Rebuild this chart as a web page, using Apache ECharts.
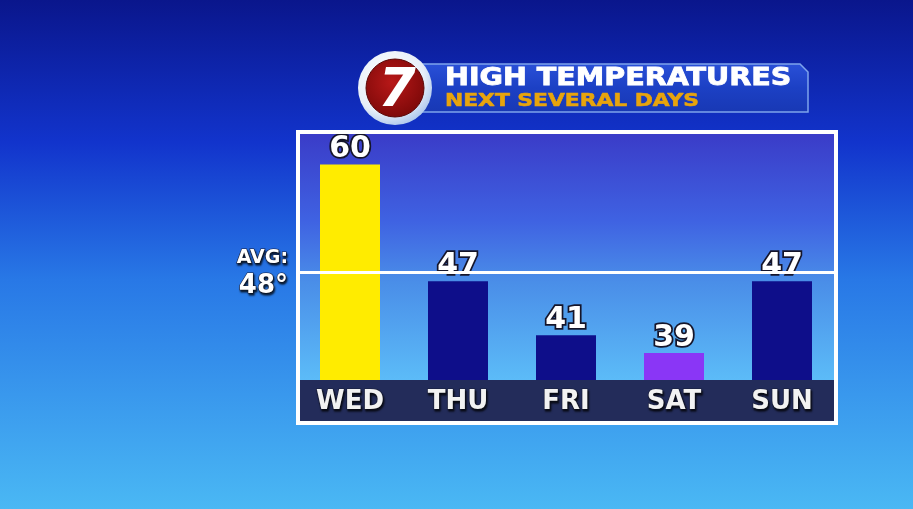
<!DOCTYPE html>
<html><head><meta charset="utf-8">
<script src="https://cdn.jsdelivr.net/npm/echarts@6/dist/echarts.min.js"></script>
<style>html,body{margin:0;padding:0;background:#0b1890}#c{width:913px;height:509px}</style>
</head><body><div id="c"></div>
<script>
const days = ['WED', 'THU', 'FRI', 'SAT', 'SUN'];
const highs = [60, 47, 41, 39, 47];
const avgTemp = 48;
const titleMain = 'HIGH TEMPERATURES';
const titleSub = 'NEXT SEVERAL DAYS';
const barColors = ['#ffec00', '#0e0e8a', '#0e0e8a', '#8a36f6', '#0e0e8a'];

const FONT = '"DejaVu Sans", sans-serif';
const chart = echarts.init(document.getElementById('c'));
const lg = (stops) => ({type:'linear', x:0, y:0, x2:0, y2:1, colorStops: stops.map((c)=>({offset:c[0], color:c[1]}))});
const shadowTxt = {textBorderColor: '#1a1f3a', textBorderWidth: 1.2, textShadowColor: 'rgba(0,0,0,0.75)', textShadowBlur: 2, textShadowOffsetX: 1, textShadowOffsetY: 2};

chart.setOption({
  animation: false,
  backgroundColor: lg([[0,'#0a168c'],[0.28,'#1234cc'],[0.55,'#2878e6'],[1,'#4ab8f4']]),
  grid: {left: 296, right: 77, top: 135, bottom: 129},
  xAxis: {
    type: 'category', data: days, z: 6,
    axisLine: {show: false}, axisTick: {show: false},
    axisLabel: Object.assign({margin: 9, fontFamily: FONT, fontWeight: 'bold', fontSize: 26, color: '#f2f2f2'}, shadowTxt)
  },
  yAxis: {type: 'value', min: 36, max: 63.3, show: false, splitLine: {show: false}},
  series: [{
    type: 'bar', barWidth: 60, z: 3,
    data: highs.map((v, i) => ({value: v, itemStyle: {color: barColors[i]}})),
    label: {show: true, position: 'top', distance: 0, fontFamily: FONT, fontWeight: 'bold', fontSize: 30,
      color: '#ffffff', textBorderColor: '#15152a', textBorderWidth: 3.5},
    markLine: {
      silent: true, symbol: 'none', z: 4,
      lineStyle: {color: '#ffffff', width: 3, type: 'solid'},
      data: [{yAxis: avgTemp}],
      label: {show: true, position: 'start', distance: 8,
        formatter: '{a|AVG:}\n{b|' + avgTemp + '°}',
        rich: {
          a: Object.assign({fontFamily: FONT, fontWeight: 'bold', fontSize: 19, color: '#fff', lineHeight: 28, align: 'right'}, shadowTxt),
          b: Object.assign({fontFamily: FONT, fontWeight: 'bold', fontSize: 26, color: '#fff', lineHeight: 28, align: 'right'}, shadowTxt)
        }
      }
    }
  }],
  graphic: [
    {type: 'rect', z: -10, shape: {x: 300, y: 134, width: 535, height: 247},
      style: {fill: lg([[0,'#3a3cc8'],[0.35,'#3f62e2'],[0.6,'#4a8ee8'],[1,'#5cbcf8']])}},
    {type: 'rect', z: 5, shape: {x: 300, y: 380, width: 535, height: 41}, style: {fill: '#232c5a'}},
    {type: 'rect', z: 6, shape: {x: 298, y: 132, width: 538, height: 291}, style: {fill: 'none', stroke: '#ffffff', lineWidth: 4}},
    {type: 'polygon', z: 7, shape: {points: [[420,64],[800,64],[808,72],[808,112],[420,112]]},
      style: {fill: lg([[0,'#2a50d8'],[0.5,'#1c40c4'],[1,'#1838b4']]), stroke: '#7ea4ec', lineWidth: 1.5}},
    {type: 'text', z: 8, x: 445, y: 79, scaleX: 1.19,
      style: {text: titleMain, fontFamily: FONT, fontWeight: 'bold', fontSize: 24, fill: '#ffffff', stroke: '#ffffff', lineWidth: 0.8, verticalAlign: 'middle', align: 'left'}},
    {type: 'text', z: 8, x: 445, y: 101, scaleX: 1.21,
      style: {text: titleSub, fontFamily: FONT, fontWeight: 'bold', fontSize: 18, fill: '#e8a40c', stroke: '#e8a40c', lineWidth: 0.6, verticalAlign: 'middle', align: 'left'}},
    {type: 'circle', z: 9, shape: {cx: 395, cy: 88, r: 37},
      style: {fill: {type:'radial', x:0.4, y:0.35, r:0.7, colorStops:[{offset:0,color:'#ffffff'},{offset:0.7,color:'#e6eef8'},{offset:1,color:'#a8c4ec'}]}}},
    {type: 'circle', z: 10, shape: {cx: 395, cy: 88, r: 29},
      style: {fill: {type:'radial', x:0.45, y:0.4, r:0.65, colorStops:[{offset:0,color:'#b81818'},{offset:1,color:'#7a0808'}]}, stroke: '#5a0606', lineWidth: 1}},
    {type: 'text', z: 11, x: 397, y: 92,
      style: {text: '7', fontFamily: FONT, fontWeight: 'bold', fontStyle: 'italic', fontSize: 54, fill: '#ffffff', align: 'center', verticalAlign: 'middle'}}
  ]
});
</script></body></html>
